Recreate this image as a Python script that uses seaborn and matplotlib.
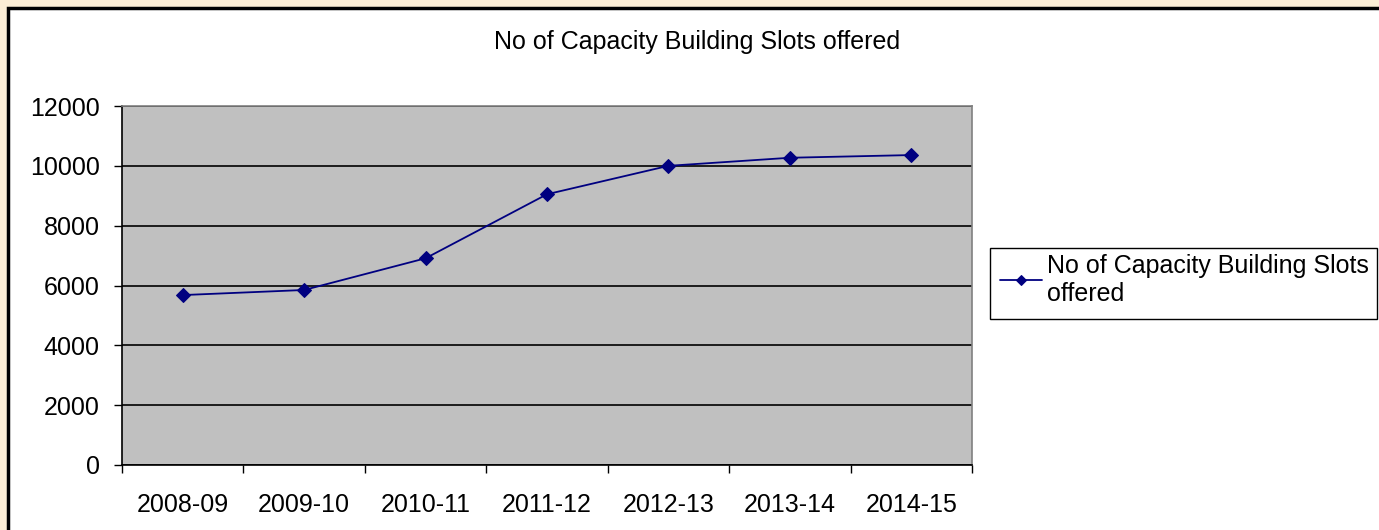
import matplotlib
matplotlib.use("Agg")
import matplotlib.pyplot as plt
import seaborn as sns
import pandas as pd
from matplotlib.patches import Rectangle

years = ["2008-09", "2009-10", "2010-11", "2011-12", "2012-13", "2013-14", "2014-15"]
slots = [5680, 5850, 6910, 9050, 10000, 10270, 10360]
series_name = "No of Capacity Building Slots offered"
y_ticks = [0, 2000, 4000, 6000, 8000, 10000, 12000]

sns.set_theme(style="white")
plt.rcParams['font.family'] = ['Liberation Sans', 'DejaVu Sans']
plt.rcParams['text.color'] = 'black'
plt.rcParams['xtick.color'] = 'black'
plt.rcParams['ytick.color'] = 'black'

FS = 18
W, H = 1379, 530
fig = plt.figure(figsize=(W / 100, H / 100), dpi=100)
fig.patch.set_facecolor("#FCEED5")
# white chart area with black border
fig.patches.append(Rectangle((8 / W, -0.01), 1.02, 1 - 8 / H + 0.01, transform=fig.transFigure,
                             facecolor="white", edgecolor="black", linewidth=2.5, zorder=-10))
# legend box
fig.patches.append(Rectangle((990 / W, (H - 319) / H), (1377 - 990) / W, (319 - 248) / H,
                             transform=fig.transFigure, facecolor="white", edgecolor="black",
                             linewidth=1.0, zorder=-5))

ax = fig.add_axes([122 / W, (H - 465) / H, (972 - 122) / W, (465 - 106) / H])
ax.set_facecolor("#C0C0C0")

df = pd.DataFrame({"year": years, "slots": slots, "x": range(len(years))})
sns.lineplot(data=df, x="x", y="slots", ax=ax, color="#000080", linewidth=1.3,
             marker="D", markersize=7, markeredgecolor="#000080", label=series_name, zorder=3)

ax.set_xlim(-0.5, len(years) - 0.5)
ax.set_ylim(0, 12000)
ax.set_yticks(y_ticks)
ax.set_yticklabels([str(v) for v in y_ticks], fontsize=FS, color="black")
ax.set_xticks(range(len(years)))
ax.set_xticklabels(years, fontsize=FS, color="black")
ax.set_xticks([i - 0.5 for i in range(len(years) + 1)], minor=True)
ax.tick_params(axis="x", which="major", length=0, pad=20)
ax.tick_params(axis="x", which="minor", length=5.5, width=1, color="black", direction="out", bottom=True)
ax.tick_params(axis="y", which="major", length=6, width=1, color="black", direction="out", left=True, pad=10)
ax.set_xlabel("")
ax.set_ylabel("")
ax.yaxis.grid(True, color="black", linewidth=1.2)
ax.xaxis.grid(False)
for side in ["left", "bottom"]:
    ax.spines[side].set_color("black")
    ax.spines[side].set_linewidth(1.2)
for side in ["top", "right"]:
    ax.spines[side].set_color("#808080")
    ax.spines[side].set_linewidth(1.2)

leg = ax.legend(["No of Capacity Building Slots\noffered"], loc="upper left",
                bbox_to_anchor=(996 / W, (H - 250) / H), bbox_transform=fig.transFigure,
                fontsize=FS, frameon=False,
                handlelength=1.7, handletextpad=0.2, borderpad=0.15, borderaxespad=0,
                labelspacing=0.2)
for t in leg.get_texts():
    t.set_color("black")
for h in leg.get_lines():
    h.set_markersize(5)

fig.text(697 / W, (H - 42) / H, "No of Capacity Building Slots offered", ha="center", va="center",
         fontsize=FS, color="black")

fig.savefig("out.png", dpi=100, facecolor=fig.get_facecolor())
